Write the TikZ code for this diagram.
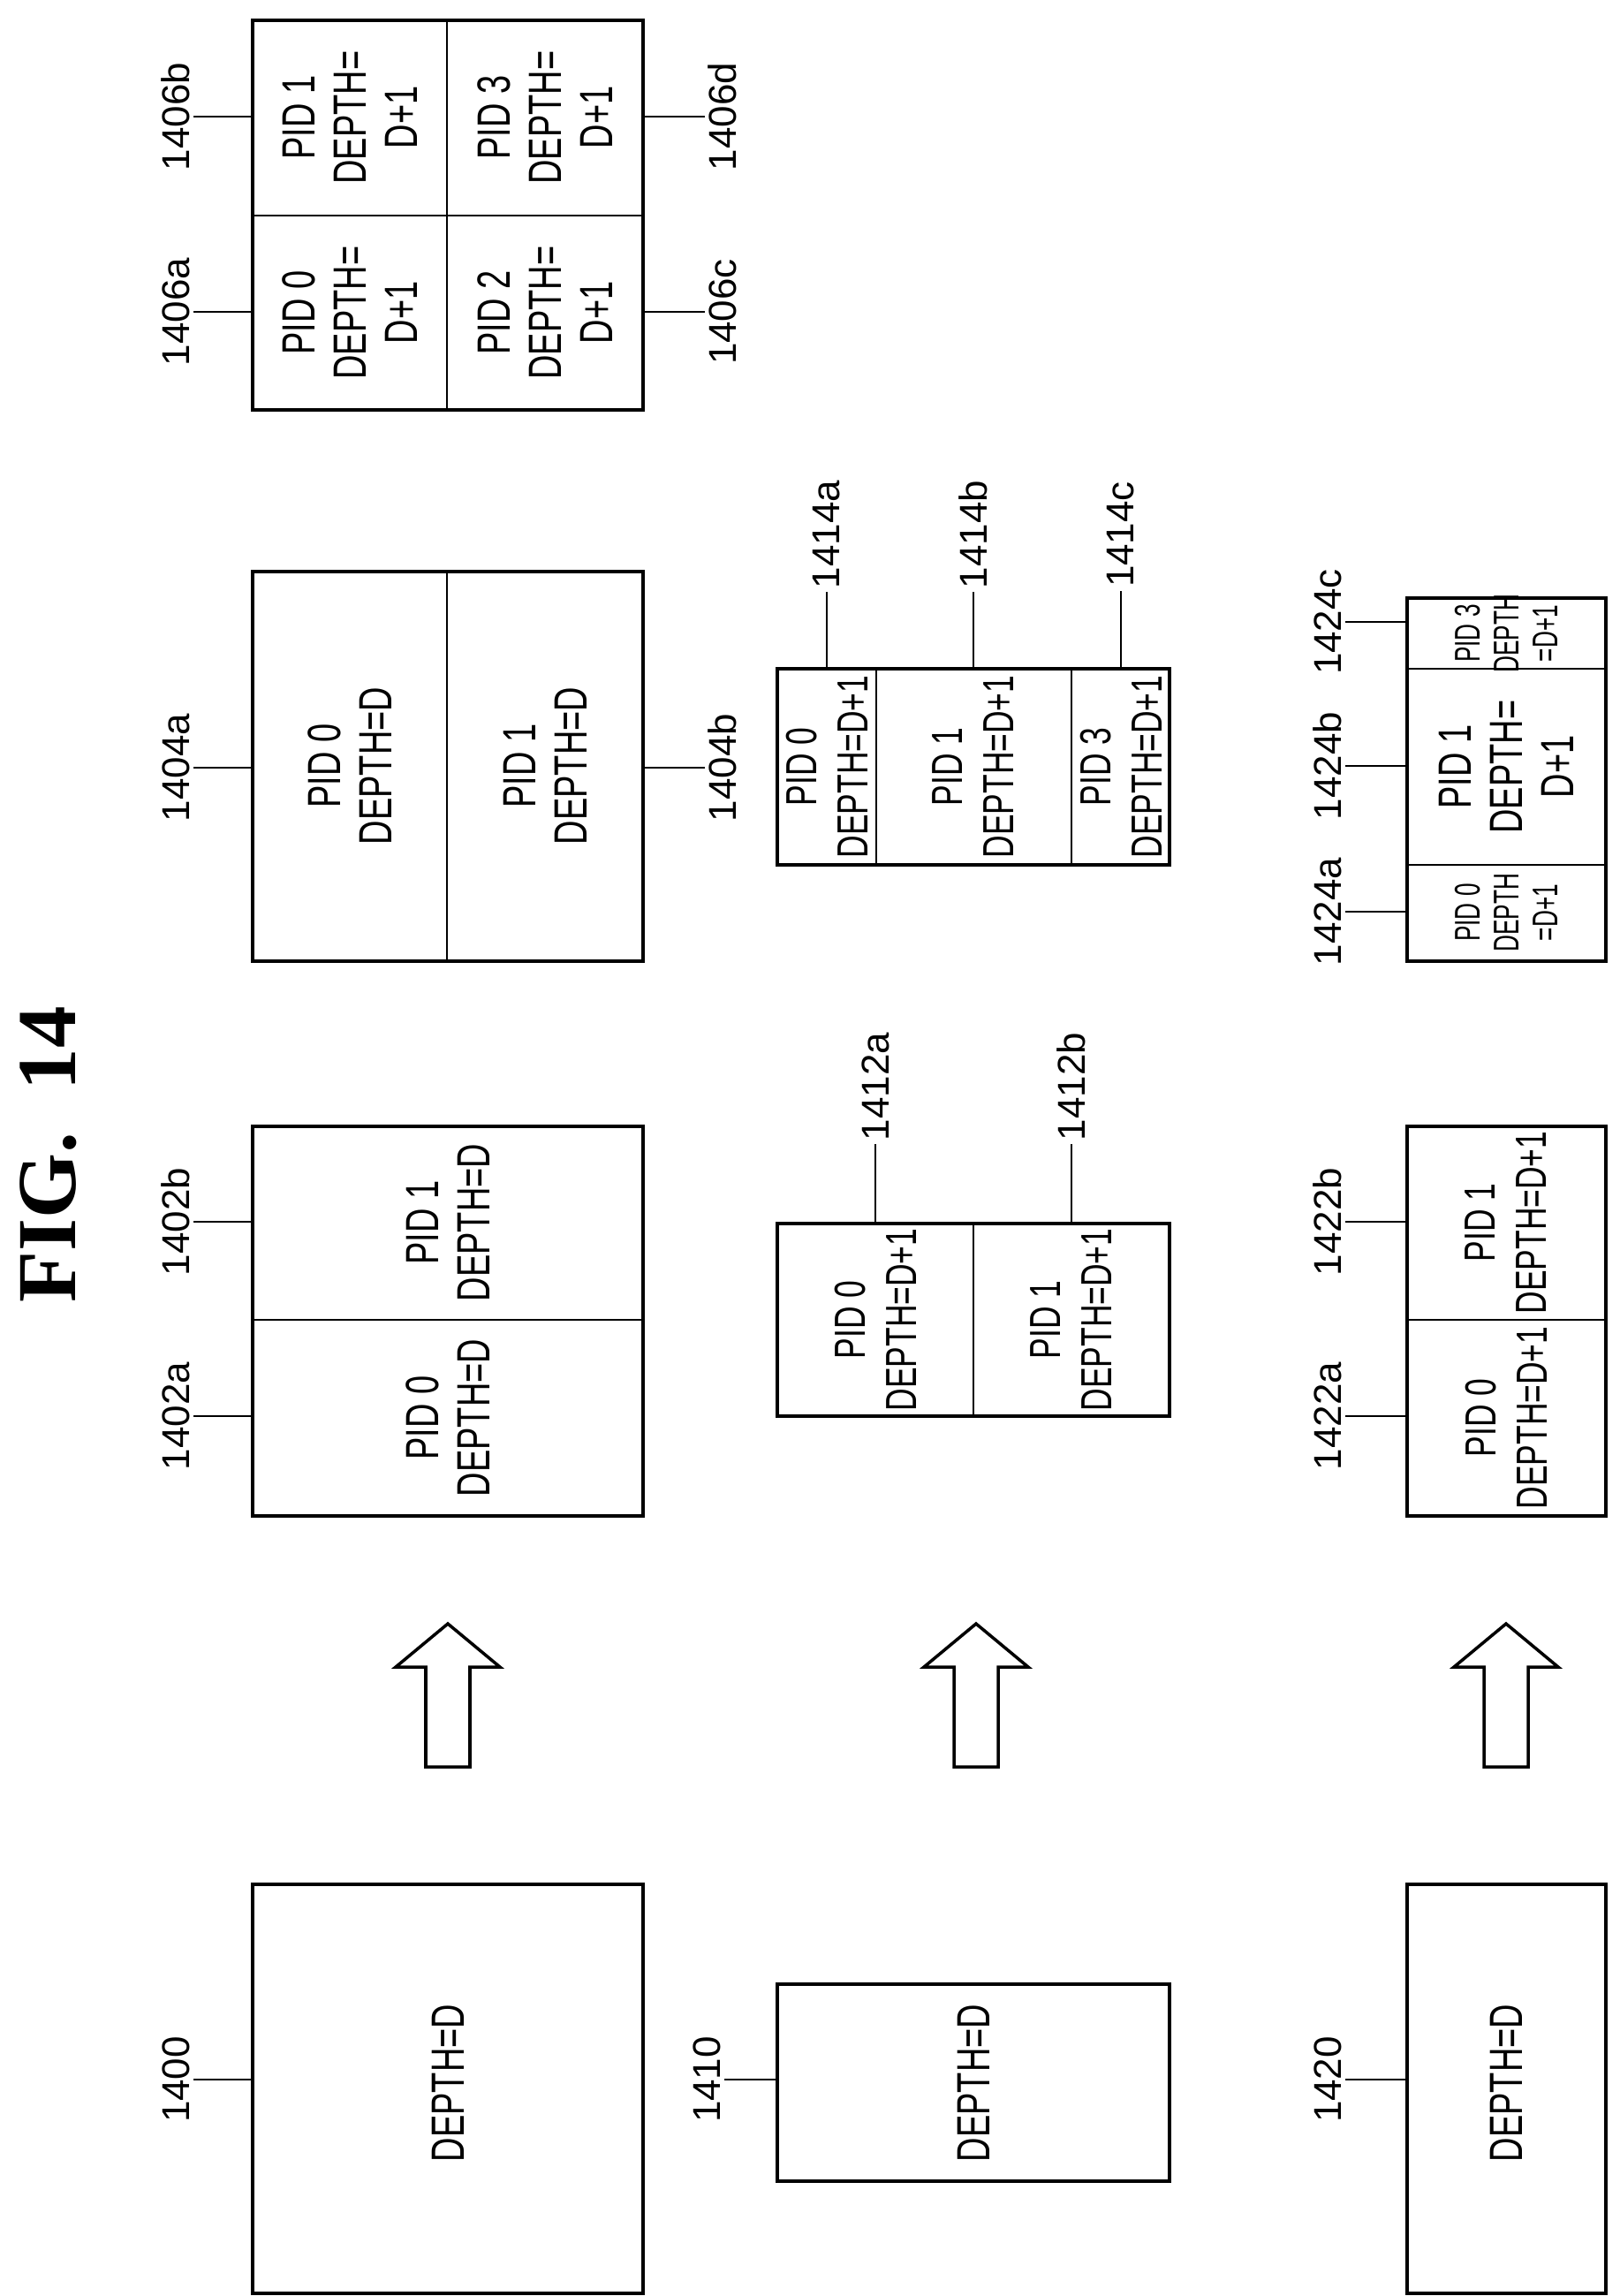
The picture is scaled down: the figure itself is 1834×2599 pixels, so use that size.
\documentclass[tikz,border=0pt]{standalone}
\usepackage{fontspec}
\setmainfont{Liberation Sans}
\newfontfamily\figfont{Liberation Serif}
\usetikzlibrary{positioning}

\begin{document}
\begin{tikzpicture}[
x=0.01cm,y=-0.01cm,
box/.style={
	draw,
	line width=1.2pt
},
split/.style={
	draw,
	line width=0.8pt
},
cell/.style={
	rotate=90,
	xscale=0.72,
	align=center,
	inner sep=1pt,
	font=\fontsize{15}{16.5}\selectfont
},
tight cell/.style={
	cell,
	font=\fontsize{14}{16.5}\selectfont
},
small cell/.style={
	cell,
	xscale=0.9,
	font=\fontsize{11.5}{12.5}\selectfont
},
lbl/.style={
	rotate=90,
	inner sep=1pt,
	font=\fontsize{12.5}{14}\selectfont
},
lead/.style={
	line width=0.6pt
},
block arrow/.style={
	draw,
	line width=1pt
}
]
\useasboundingbox (0,0) rectangle (1834,2599);

% title
\node[rotate=90,font=\figfont\bfseries\fontsize{27}{30}\selectfont] (fig) at (55,1307) {FIG.\ \ 14};

% left column: undivided blocks
\draw[box] (286,2133) rectangle (728,2596);
\draw[box] (880,2246) rectangle (1324,2469);
\draw[box] (1593,2133) rectangle (1818,2596);
\foreach \n/\x in {1400/507,1410/1102,1420/1705}
\node[cell] (t\n) at (\x,2358) {DEPTH=D};

% block arrows
\foreach \x in {507,1105,1705}
\draw[block arrow] (\x,1838) -- ++(59,49) -- ++(-34,0) -- ++(0,113) -- ++(-50,0)
	-- ++(0,-113) -- ++(-34,0) -- cycle;

% 1402
\draw[box] (286,1275) rectangle (728,1716);
\draw[split] (286,1494) -- (728,1494);
\node[cell] (t1402a) at (507,1605) {PID 0\\DEPTH=D};
\node[cell] (t1402b) at (507,1384) {PID 1\\DEPTH=D};

% 1404
\draw[box] (286,647) rectangle (728,1088);
\draw[split] (506,647) -- (506,1088);
\node[cell] (t1404a) at (396,867) {PID 0\\DEPTH=D};
\node[cell] (t1404b) at (617,867) {PID 1\\DEPTH=D};

% 1406
\draw[box] (286,23) rectangle (728,464);
\draw[split] (506,23) -- (506,464);
\draw[split] (286,244) -- (728,244);
\node[cell] (t1406a) at (396,354) {PID 0\\DEPTH=\\D+1};
\node[cell] (t1406b) at (396,133) {PID 1\\DEPTH=\\D+1};
\node[cell] (t1406c) at (617,354) {PID 2\\DEPTH=\\D+1};
\node[cell] (t1406d) at (617,133) {PID 3\\DEPTH=\\D+1};

% 1412
\draw[box] (880,1385) rectangle (1324,1603);
\draw[split] (1102,1385) -- (1102,1603);
\node[tight cell] (t1412a) at (991,1494) {PID 0\\DEPTH=D+1};
\node[tight cell] (t1412b) at (1213,1494) {PID 1\\DEPTH=D+1};

% 1414
\draw[box] (880,757) rectangle (1324,979);
\draw[split] (992,757) -- (992,979);
\draw[split] (1213,757) -- (1213,979);
\node[tight cell] (t1414a) at (936,868) {PID 0\\DEPTH=D+1};
\node[tight cell] (t1414b) at (1102,868) {PID 1\\DEPTH=D+1};
\node[tight cell] (t1414c) at (1269,868) {PID 3\\DEPTH=D+1};

% 1422
\draw[box] (1593,1275) rectangle (1818,1716);
\draw[split] (1593,1494) -- (1818,1494);
\node[tight cell] (t1422a) at (1705,1605) {PID 0\\DEPTH=D+1};
\node[tight cell] (t1422b) at (1705,1384) {PID 1\\DEPTH=D+1};

% 1424
\draw[box] (1593,677) rectangle (1818,1088);
\draw[split] (1593,757) -- (1818,757);
\draw[split] (1593,979) -- (1818,979);
\node[small cell] (t1424a) at (1705,1033) {PID 0\\DEPTH\\=D+1};
\node[cell] (t1424b) at (1705,868) {PID 1\\DEPTH=\\D+1};
\node[small cell] (t1424c) at (1705,717) {PID 3\\DEPTH\\=D+1};

% reference numerals beside the blocks
\foreach \n/\x/\y/\bx in {1400/199/2354/286,1402a/199/1603/286,1402b/199/1383/286,
	1404a/199/869/286,1406a/199/353/286,1406b/199/132/286,
	1404b/818/869/728,1406c/818/353/728,1406d/818/132/728,
	1410/800/2354/880,1420/1503/2354/1593,
	1422a/1503/1603/1593,1422b/1503/1383/1593,
	1424a/1503/1032/1593,1424b/1503/867/1593,1424c/1503/704/1593}
{
\node[lbl] (l\n) at (\x,\y) {\n};
\coordinate (c\n) at (\bx,\y);
}
\foreach \n in {1400,1402a,1402b,1404a,1406a,1406b,1410,1420,1422a,1422b,1424a,1424b,1424c}
\draw[lead] (l\n.south) -- (c\n);
\foreach \n in {1404b,1406c,1406d}
\draw[lead] (c\n) -- (l\n.north);

% reference numerals above the blocks
\foreach \n/\x/\y/\by in {1412a/991/1230/1385,1412b/1213/1230/1385,
	1414a/936/605/757,1414b/1102/605/757,1414c/1269/605/757}
{
\node[lbl] (l\n) at (\x,\y) {\n};
\coordinate (c\n) at (\x,\by);
\draw[lead] (c\n) -- (l\n.west);
}
\end{tikzpicture}
\end{document}
